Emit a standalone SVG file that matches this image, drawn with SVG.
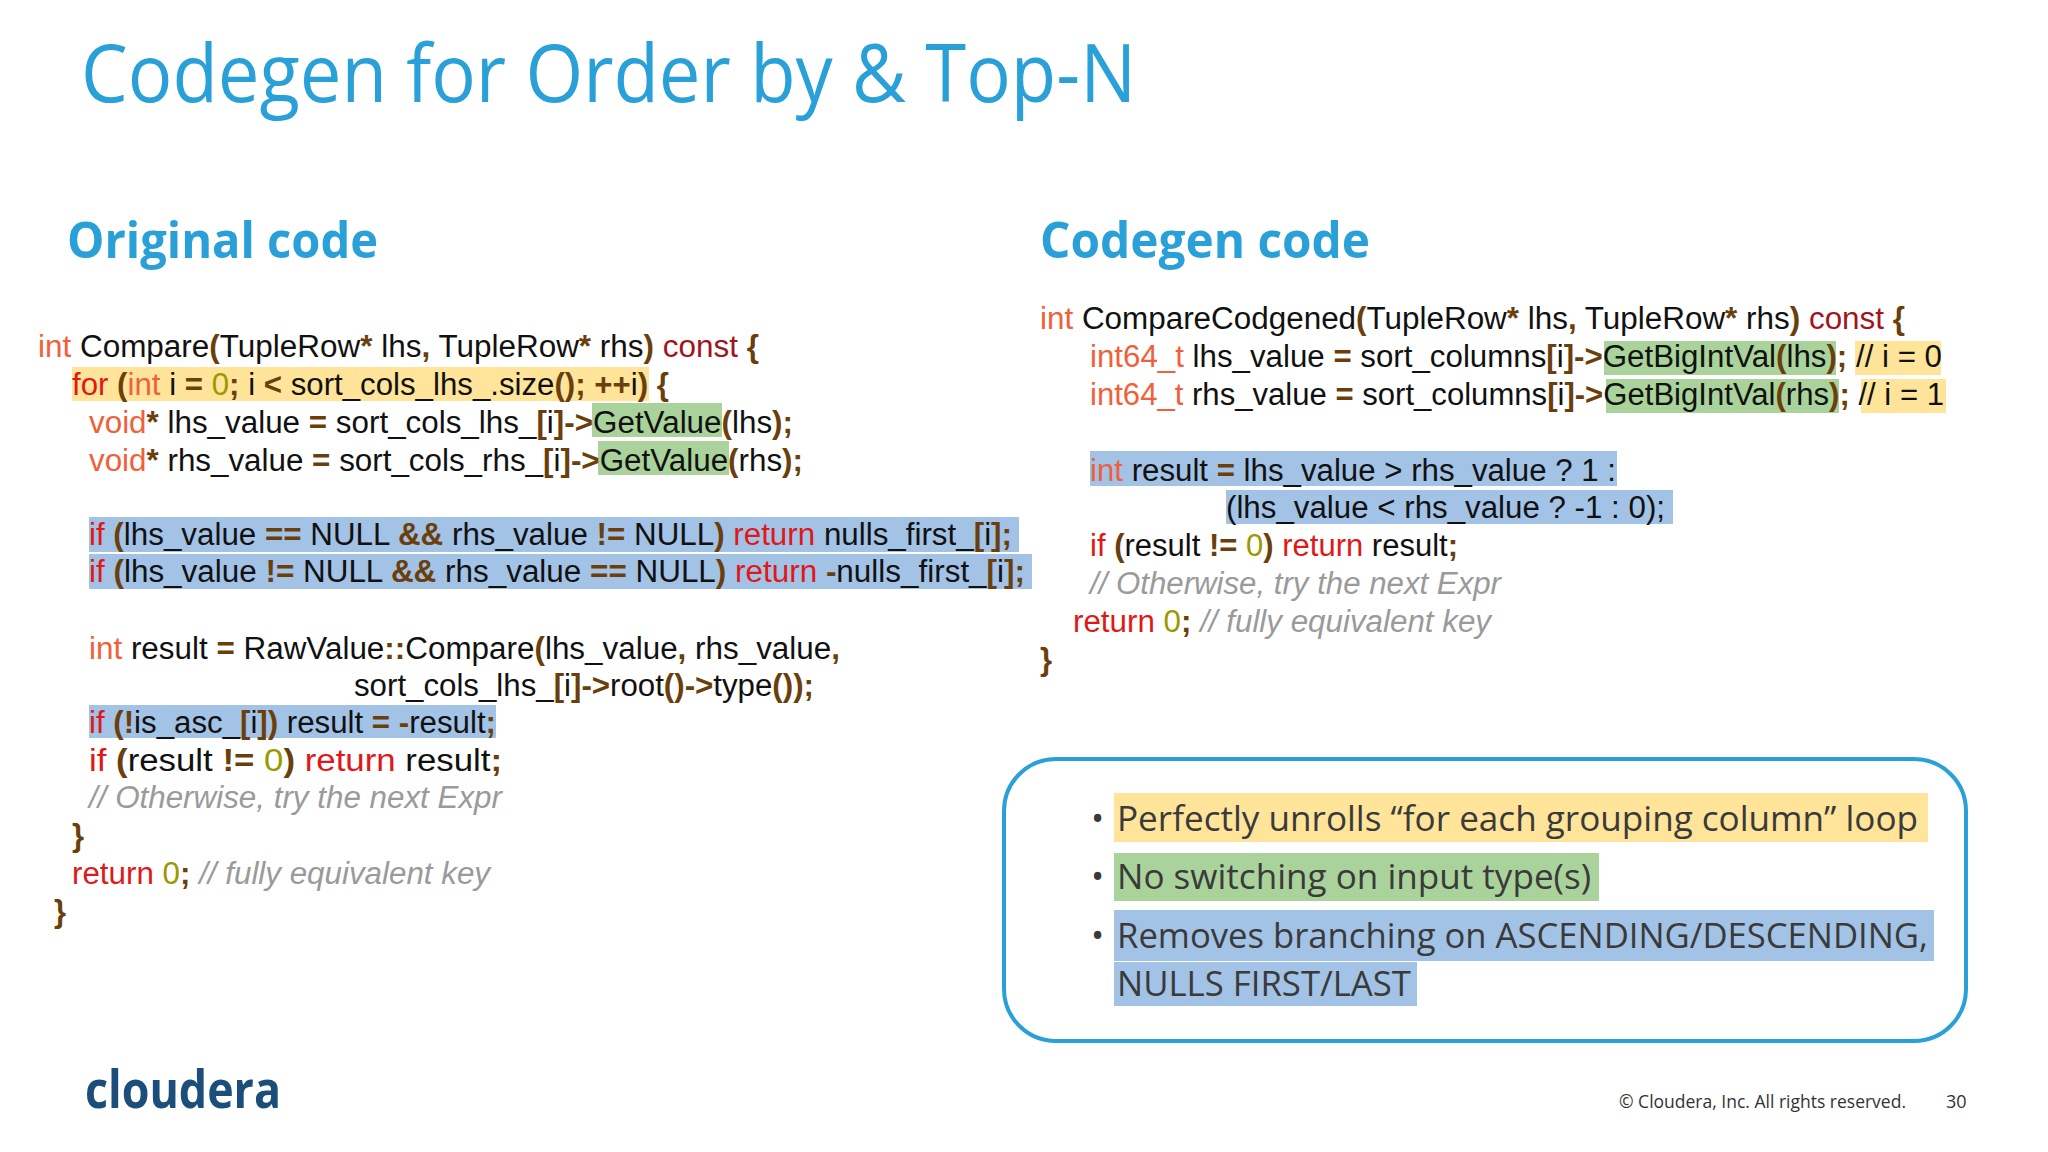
<svg xmlns="http://www.w3.org/2000/svg" width="2048" height="1152" viewBox="0 0 2048 1152">
<style>
.code{font-family:"Liberation Sans",Arial,sans-serif;font-size:31px;fill:#111}
.k{fill:#f0603a}.r{fill:#e01818}.c{fill:#a3141c}.p{fill:#6b3f0c;font-weight:bold}.n{fill:#9a9a00}
.cm{fill:#9a9a9a;font-style:italic}
.hy{fill:#ffe49a}.hg{fill:#a9d39a}.hb{fill:#a2c2e6}
.h2{font-family:"Open Sans",Lato,sans-serif;font-weight:bold;font-size:50px;fill:#29a0d8}
.bul{font-family:"Open Sans",Lato,sans-serif;font-size:35px;fill:#3a3a3a}
</style>
<rect width="2048" height="1152" fill="#ffffff"/>
<text x="81" y="102" font-family="'Open Sans',Lato,sans-serif" font-size="80" fill="#29a0d8" textLength="1055" lengthAdjust="spacingAndGlyphs">Codegen for Order by &amp; Top-N</text>
<text class="h2" x="67" y="258" textLength="311" lengthAdjust="spacingAndGlyphs">Original code</text>
<text class="h2" x="1040" y="258" textLength="330" lengthAdjust="spacingAndGlyphs">Codegen code</text>

<g id="original-code">
<rect class="hy" x="72" y="367" width="577" height="34"/>
<rect class="hg" x="592" y="403" width="130" height="34"/>
<rect class="hg" x="598" y="441" width="131" height="34"/>
<rect class="hb" x="89" y="517" width="930" height="35"/>
<rect class="hb" x="89" y="554" width="943" height="35"/>
<rect class="hb" x="89" y="705" width="407" height="33"/>
<text class="code" x="38" y="357" textLength="721" lengthAdjust="spacingAndGlyphs"><tspan class="k">int</tspan> Compare<tspan class="p">(</tspan>TupleRow<tspan class="p">*</tspan> lhs<tspan class="p">,</tspan> TupleRow<tspan class="p">*</tspan> rhs<tspan class="p">)</tspan> <tspan class="c">const</tspan> <tspan class="p">{</tspan></text>
<text class="code" x="72" y="395" textLength="597" lengthAdjust="spacingAndGlyphs"><tspan class="r">for</tspan> <tspan class="p">(</tspan><tspan class="k">int</tspan> i <tspan class="p">=</tspan> <tspan class="n">0</tspan><tspan class="p">;</tspan> i <tspan class="p">&lt;</tspan> sort_cols_lhs_.size<tspan class="p">();</tspan> <tspan class="p">++</tspan>i<tspan class="p">)</tspan> <tspan class="p">{</tspan></text>
<text class="code" x="89" y="433" textLength="704" lengthAdjust="spacingAndGlyphs"><tspan class="k">void</tspan><tspan class="p">*</tspan> lhs_value <tspan class="p">=</tspan> sort_cols_lhs_<tspan class="p">[</tspan>i<tspan class="p">]-&gt;</tspan>GetValue<tspan class="p">(</tspan>lhs<tspan class="p">);</tspan></text>
<text class="code" x="89" y="471" textLength="714" lengthAdjust="spacingAndGlyphs"><tspan class="k">void</tspan><tspan class="p">*</tspan> rhs_value <tspan class="p">=</tspan> sort_cols_rhs_<tspan class="p">[</tspan>i<tspan class="p">]-&gt;</tspan>GetValue<tspan class="p">(</tspan>rhs<tspan class="p">);</tspan></text>
<text class="code" x="89" y="545" textLength="923" lengthAdjust="spacingAndGlyphs"><tspan class="r">if</tspan> <tspan class="p">(</tspan>lhs_value <tspan class="p">==</tspan> NULL <tspan class="p">&amp;&amp;</tspan> rhs_value <tspan class="p">!=</tspan> NULL<tspan class="p">)</tspan> <tspan class="r">return</tspan> nulls_first_<tspan class="p">[</tspan>i<tspan class="p">];</tspan></text>
<text class="code" x="89" y="582" textLength="936" lengthAdjust="spacingAndGlyphs"><tspan class="r">if</tspan> <tspan class="p">(</tspan>lhs_value <tspan class="p">!=</tspan> NULL <tspan class="p">&amp;&amp;</tspan> rhs_value <tspan class="p">==</tspan> NULL<tspan class="p">)</tspan> <tspan class="r">return</tspan> <tspan class="p">-</tspan>nulls_first_<tspan class="p">[</tspan>i<tspan class="p">];</tspan></text>
<text class="code" x="89" y="659" textLength="751" lengthAdjust="spacingAndGlyphs"><tspan class="k">int</tspan> result <tspan class="p">=</tspan> RawValue<tspan class="p">::</tspan>Compare<tspan class="p">(</tspan>lhs_value<tspan class="p">,</tspan> rhs_value<tspan class="p">,</tspan></text>
<text class="code" x="354" y="696" textLength="460" lengthAdjust="spacingAndGlyphs">sort_cols_lhs_<tspan class="p">[</tspan>i<tspan class="p">]-&gt;</tspan>root<tspan class="p">()-&gt;</tspan>type<tspan class="p">());</tspan></text>
<text class="code" x="89" y="733" textLength="407" lengthAdjust="spacingAndGlyphs"><tspan class="r">if</tspan> <tspan class="p">(!</tspan>is_asc_<tspan class="p">[</tspan>i<tspan class="p">])</tspan> result <tspan class="p">=</tspan> <tspan class="p">-</tspan>result<tspan class="p">;</tspan></text>
<text class="code" x="89" y="771" textLength="413" lengthAdjust="spacingAndGlyphs"><tspan class="r">if</tspan> <tspan class="p">(</tspan>result <tspan class="p">!=</tspan> <tspan class="n">0</tspan><tspan class="p">)</tspan> <tspan class="r">return</tspan> result<tspan class="p">;</tspan></text>
<text class="code cm" x="89" y="808" textLength="413" lengthAdjust="spacingAndGlyphs">// Otherwise, try the next Expr</text>
<text class="code" x="72" y="846"><tspan class="p">}</tspan></text>
<text class="code" x="72" y="884" textLength="418" lengthAdjust="spacingAndGlyphs"><tspan class="r">return</tspan> <tspan class="n">0</tspan><tspan class="p">;</tspan> <tspan class="cm">// fully equivalent key</tspan></text>
<text class="code" x="54" y="922"><tspan class="p">}</tspan></text>
</g>

<g id="codegen-code">
<rect class="hg" x="1604" y="341" width="232" height="34"/>
<rect class="hg" x="1606" y="379" width="233" height="34"/>
<rect class="hy" x="1855" y="341" width="86" height="34"/>
<rect class="hy" x="1861" y="379" width="85" height="34"/>
<rect class="hb" x="1090" y="451" width="527" height="35"/>
<rect class="hb" x="1226" y="490" width="447" height="34"/>
<text class="code" x="1040" y="329" textLength="865" lengthAdjust="spacingAndGlyphs"><tspan class="k">int</tspan> CompareCodgened<tspan class="p">(</tspan>TupleRow<tspan class="p">*</tspan> lhs<tspan class="p">,</tspan> TupleRow<tspan class="p">*</tspan> rhs<tspan class="p">)</tspan> <tspan class="c">const</tspan> <tspan class="p">{</tspan></text>
<text class="code" x="1090" y="367" textLength="852" lengthAdjust="spacingAndGlyphs"><tspan class="k">int64_t</tspan> lhs_value <tspan class="p">=</tspan> sort_columns<tspan class="p">[</tspan>i<tspan class="p">]-&gt;</tspan>GetBigIntVal<tspan class="p">(</tspan>lhs<tspan class="p">);</tspan> // i = 0</text>
<text class="code" x="1090" y="405" textLength="854" lengthAdjust="spacingAndGlyphs"><tspan class="k">int64_t</tspan> rhs_value <tspan class="p">=</tspan> sort_columns<tspan class="p">[</tspan>i<tspan class="p">]-&gt;</tspan>GetBigIntVal<tspan class="p">(</tspan>rhs<tspan class="p">);</tspan> // i = 1</text>
<text class="code" x="1090" y="481" textLength="526" lengthAdjust="spacingAndGlyphs"><tspan class="k">int</tspan> result <tspan class="p">=</tspan> lhs_value &gt; rhs_value ? 1 :</text>
<text class="code" x="1226" y="518" textLength="439" lengthAdjust="spacingAndGlyphs">(lhs_value &lt; rhs_value ? -1 : 0);</text>
<text class="code" x="1090" y="556" textLength="368" lengthAdjust="spacingAndGlyphs"><tspan class="r">if</tspan> <tspan class="p">(</tspan>result <tspan class="p">!=</tspan> <tspan class="n">0</tspan><tspan class="p">)</tspan> <tspan class="r">return</tspan> result<tspan class="p">;</tspan></text>
<text class="code cm" x="1090" y="594" textLength="411" lengthAdjust="spacingAndGlyphs">// Otherwise, try the next Expr</text>
<text class="code" x="1073" y="632" textLength="418" lengthAdjust="spacingAndGlyphs"><tspan class="r">return</tspan> <tspan class="n">0</tspan><tspan class="p">;</tspan> <tspan class="cm">// fully equivalent key</tspan></text>
<text class="code" x="1040" y="670"><tspan class="p">}</tspan></text>
</g>

<g id="summary-box">
<rect x="1004" y="759" width="962" height="282" rx="52" fill="none" stroke="#29a0d8" stroke-width="4"/>
<rect class="hy" x="1114" y="793" width="814" height="49"/>
<rect class="hg" x="1114" y="853" width="485" height="48"/>
<rect class="hb" x="1114" y="910" width="820" height="51"/>
<rect class="hb" x="1114" y="962" width="303" height="44"/>
<text class="bul" x="1091" y="831">•</text>
<text class="bul" x="1091" y="889">•</text>
<text class="bul" x="1091" y="948">•</text>
<text class="bul" x="1117" y="831" textLength="801" lengthAdjust="spacingAndGlyphs">Perfectly unrolls “for each grouping column” loop</text>
<text class="bul" x="1117" y="889" textLength="474" lengthAdjust="spacingAndGlyphs">No switching on input type(s)</text>
<text class="bul" x="1117" y="948" textLength="811" lengthAdjust="spacingAndGlyphs">Removes branching on ASCENDING/DESCENDING,</text>
<text class="bul" x="1117" y="996" textLength="294" lengthAdjust="spacingAndGlyphs">NULLS FIRST/LAST</text>
</g>

<text x="85" y="1108" font-family="'Open Sans',Lato,sans-serif" font-weight="bold" font-size="52" fill="#1b4e7a" textLength="196" lengthAdjust="spacingAndGlyphs">cloudera</text>
<text x="1619" y="1108" font-family="'Open Sans',sans-serif" font-size="18" fill="#333" textLength="287" lengthAdjust="spacingAndGlyphs">© Cloudera, Inc. All rights reserved.</text>
<text x="1946" y="1108" font-family="'Open Sans',sans-serif" font-size="18" fill="#333">30</text>
</svg>
